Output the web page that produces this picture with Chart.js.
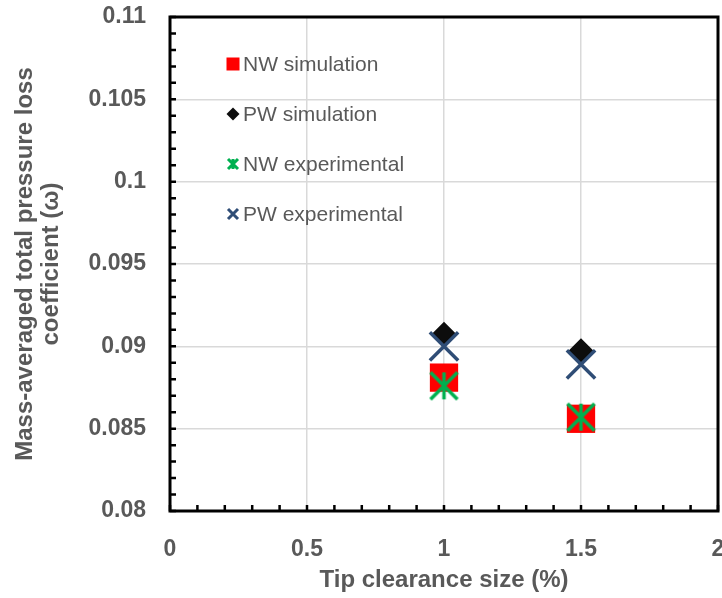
<!DOCTYPE html>
<html>
<head>
<meta charset="utf-8">
<script src="https://cdn.jsdelivr.net/npm/chart.js@4/dist/chart.umd.min.js"></script>
<style>
  html, body { margin: 0; padding: 0; background: #fff; }
  #chart { display: block; }
</style>
</head>
<body>
<canvas id="chart" width="722" height="598"></canvas>
<script>
// Chart data
var clearance = [1, 1.5];
var nwSimulation = [0.0881, 0.0856];
var pwSimulation = [0.0907, 0.0897];
var nwExperimental = [0.0876, 0.0857];
var pwExperimental = [0.0900, 0.0889];

var seriesLabels = ["NW simulation", "PW simulation", "NW experimental", "PW experimental"];
var xTickLabels = ["0", "0.5", "1", "1.5", "2"];
var yTickLabels = ["0.08", "0.085", "0.09", "0.095", "0.1", "0.105", "0.11"];

var FONT = "'Liberation Sans', Arial, sans-serif";
var GREY = "#595959";

// Build {x, y} points from the arrays
function toPoints(ys) {
  return clearance.map(function (x, i) {
    return { x: x, y: ys[i] };
  });
}

// Green asterisk marker (vertical bar + X), no built-in style for it
function makeAsterisk(size, width, color) {
  var c = document.createElement("canvas");
  c.width = size + 4;
  c.height = size + 4;
  var g = c.getContext("2d");
  var m = 2, s = size;
  g.strokeStyle = color;
  g.lineWidth = width;
  g.beginPath();
  g.moveTo(m, m); g.lineTo(m + s, m + s);
  g.moveTo(m + s, m); g.lineTo(m, m + s);
  g.moveTo(m + s / 2, m); g.lineTo(m + s / 2, m + s);
  g.stroke();
  return c;
}

var greenStar = makeAsterisk(27, 3.5, "#00B050");

// Small legend markers
function drawLegendMarker(ctx, kind, x, y) {
  ctx.save();
  if (kind === 0) {
    ctx.fillStyle = "#FF0000";
    ctx.fillRect(x - 6.5, y - 6.5, 13, 13);
  } else if (kind === 1) {
    ctx.fillStyle = "#0D0D0D";
    ctx.beginPath();
    ctx.moveTo(x, y - 6.5); ctx.lineTo(x + 6.5, y);
    ctx.lineTo(x, y + 6.5); ctx.lineTo(x - 6.5, y);
    ctx.closePath(); ctx.fill();
  } else if (kind === 2) {
    ctx.strokeStyle = "#00B050";
    ctx.lineWidth = 3;
    ctx.beginPath();
    ctx.moveTo(x - 5, y - 5); ctx.lineTo(x + 5, y + 5);
    ctx.moveTo(x + 5, y - 5); ctx.lineTo(x - 5, y + 5);
    ctx.moveTo(x, y - 5); ctx.lineTo(x, y + 5);
    ctx.stroke();
  } else {
    ctx.strokeStyle = "#2F4D76";
    ctx.lineWidth = 3;
    ctx.beginPath();
    ctx.moveTo(x - 5, y - 5); ctx.lineTo(x + 5, y + 5);
    ctx.moveTo(x + 5, y - 5); ctx.lineTo(x - 5, y + 5);
    ctx.stroke();
  }
  ctx.restore();
}

// Frame, inward minor ticks and legend inside the plot
var framePlugin = {
  id: "frame",
  beforeDatasetsDraw: function (chart) {
    var ctx = chart.ctx, a = chart.chartArea;
    var xs = chart.scales.x, ys = chart.scales.y;
    ctx.save();
    ctx.strokeStyle = "#000";
    ctx.lineWidth = 3;
    ctx.strokeRect(a.left, a.top, a.right - a.left, a.bottom - a.top);
    ctx.lineWidth = 2.5;
    ctx.beginPath();
    for (var i = 0; i <= 30; i++) {
      var py = ys.getPixelForValue(0.08 + i * 0.001);
      ctx.moveTo(a.left, py);
      ctx.lineTo(a.left + 6, py);
    }
    for (var j = 0; j <= 20; j++) {
      var px = xs.getPixelForValue(j * 0.1);
      ctx.moveTo(px, a.bottom);
      ctx.lineTo(px, a.bottom - 6);
    }
    ctx.stroke();
    ctx.restore();
  },
  afterDraw: function (chart) {
    var ctx = chart.ctx;
    ctx.save();
    ctx.font = "21px " + FONT;
    ctx.fillStyle = GREY;
    ctx.textBaseline = "middle";
    seriesLabels.forEach(function (label, k) {
      var ly = 64 + k * 50;
      drawLegendMarker(ctx, k, 233, ly);
      ctx.fillText(label, 243, ly + 1);
    });
    ctx.restore();
  }
};

new Chart(document.getElementById("chart"), {
  type: "scatter",
  data: {
    datasets: [
      {
        label: seriesLabels[0],
        data: toPoints(nwSimulation),
        pointStyle: "rect",
        pointRadius: 20,
        pointHoverRadius: 20,
        backgroundColor: "#FF0000",
        borderColor: "#FF0000",
        borderWidth: 0,
        order: 1
      },
      {
        label: seriesLabels[1],
        data: toPoints(pwSimulation),
        pointStyle: "rectRot",
        pointRadius: 13,
        pointHoverRadius: 13,
        backgroundColor: "#0D0D0D",
        borderColor: "#0D0D0D",
        borderWidth: 0,
        order: 1
      },
      {
        label: seriesLabels[2],
        data: toPoints(nwExperimental),
        pointStyle: greenStar,
        pointRadius: 14,
        pointHoverRadius: 14,
        order: 0
      },
      {
        label: seriesLabels[3],
        data: toPoints(pwExperimental),
        pointStyle: "crossRot",
        pointRadius: 20,
        pointHoverRadius: 20,
        borderColor: "#2F4D76",
        borderWidth: 3.5,
        order: 0
      }
    ]
  },
  options: {
    responsive: false,
    animation: false,
    layout: { autoPadding: false, padding: { top: 17, right: 4, left: 0, bottom: 0 } },
    plugins: {
      legend: { display: false },
      tooltip: { enabled: false }
    },
    scales: {
      x: {
        type: "linear",
        min: 0,
        max: 2,
        border: { display: false },
        grid: { color: "#D9D9D9", lineWidth: 1.5, drawTicks: false },
        ticks: {
          stepSize: 0.5,
          padding: 25,
          color: GREY,
          font: { family: FONT, size: 23, weight: "bold" },
          callback: function (v, i) { return xTickLabels[i]; }
        },
        title: {
          display: true,
          text: "Tip clearance size (%)",
          color: GREY,
          font: { family: FONT, size: 24, weight: "bold", lineHeight: 1.1 },
          padding: { top: 0, bottom: 4 }
        },
        afterFit: function (scale) {
          scale.height = 87;
          scale.paddingLeft = 0;
          scale.paddingRight = 0;
        }
      },
      y: {
        type: "linear",
        min: 0.08,
        max: 0.11,
        border: { display: false },
        grid: { color: "#D9D9D9", lineWidth: 1.5, drawTicks: false },
        ticks: {
          stepSize: 0.005,
          padding: 24,
          color: GREY,
          font: { family: FONT, size: 23, weight: "bold" },
          callback: function (v, i) { return yTickLabels[i]; }
        },
        title: {
          display: true,
          text: ["Mass-averaged total pressure loss", "coefficient (\u03c9)"],
          color: GREY,
          font: { family: FONT, size: 24, weight: "bold", lineHeight: 1.1 },
          padding: { top: 12, bottom: 0 }
        },
        afterFit: function (scale) {
          scale.width = 170;
          scale.paddingTop = 0;
          scale.paddingBottom = 0;
        }
      }
    }
  },
  plugins: [framePlugin]
});
</script>
</body>
</html>
